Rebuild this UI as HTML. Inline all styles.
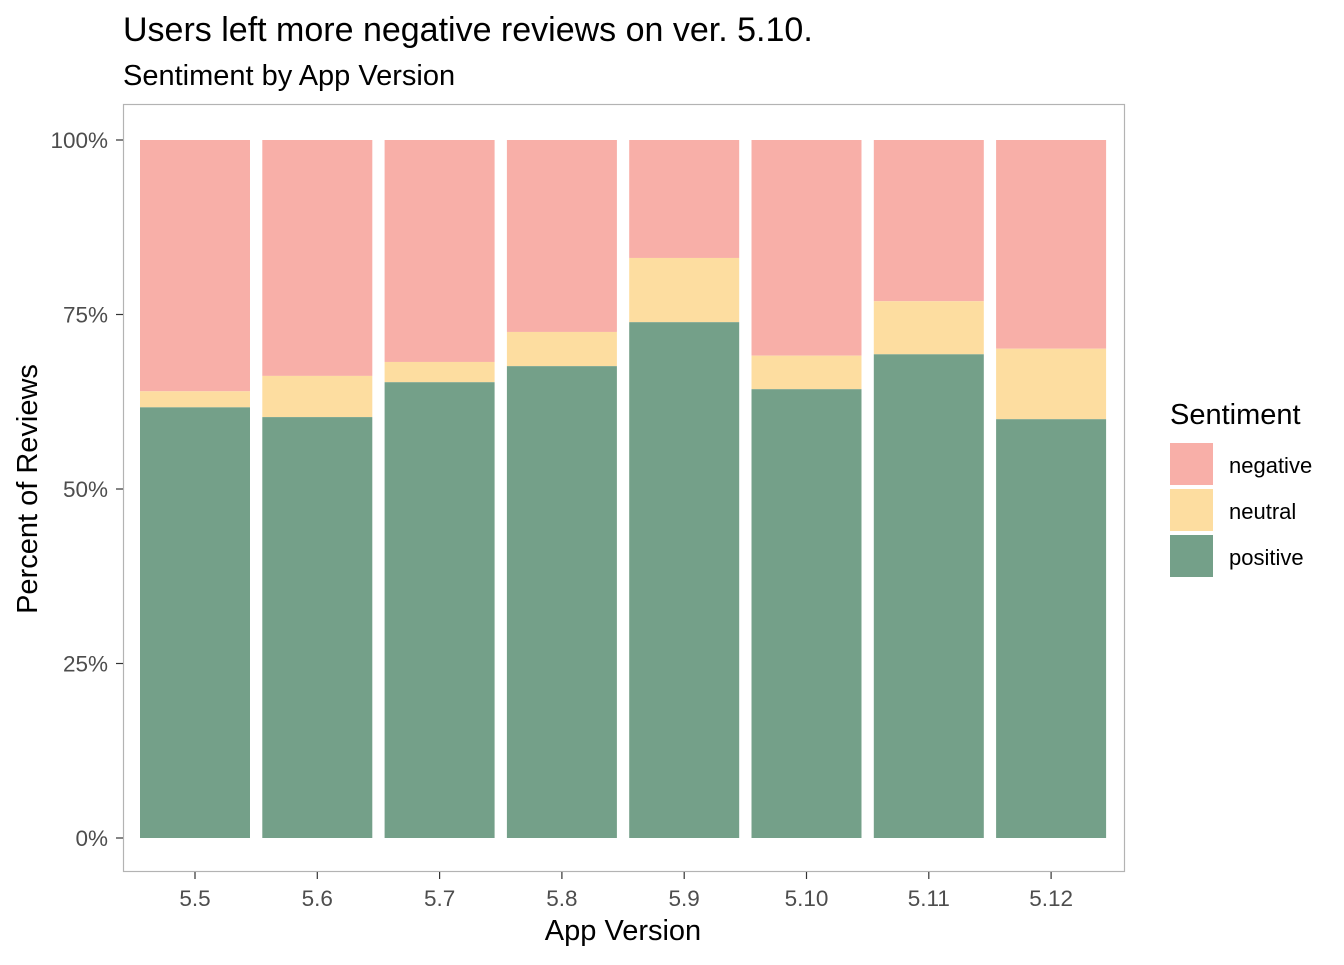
<!DOCTYPE html>
<html><head><meta charset="utf-8"><style>
body{margin:0;background:#fff;font-family:"Liberation Sans",sans-serif;}
</style></head><body>
<svg id="c" width="1344" height="960" xmlns="http://www.w3.org/2000/svg" font-family="Liberation Sans, sans-serif">
<text x="123" y="41" font-size="34" fill="#000">Users left more negative reviews on ver. 5.10.</text>
<text x="123" y="85" font-size="29" fill="#000">Sentiment by App Version</text>
<rect x="123.5" y="104.5" width="1001" height="767" fill="none" stroke="#b3b3b3" stroke-width="1.2"/>
<g id="bars"></g>
<g id="yax"></g>
<g id="xax"></g>
<text x="623" y="940" font-size="29" text-anchor="middle" fill="#000">App Version</text>
<text transform="translate(37,489) rotate(-90)" font-size="29" text-anchor="middle" fill="#000">Percent of Reviews</text>
<g>
<text x="1170" y="424" font-size="29" fill="#000">Sentiment</text>
<rect x="1170" y="443" width="43" height="42" fill="#F8AFA8"/>
<text x="1229" y="473" font-size="22" fill="#000">negative</text>
<rect x="1170" y="489" width="43" height="42" fill="#FDDDA0"/>
<text x="1229" y="519" font-size="22" fill="#000">neutral</text>
<rect x="1170" y="535" width="43" height="42" fill="#74A089"/>
<text x="1229" y="565" font-size="22" fill="#000">positive</text>
</g>
</svg>
<script>
const categories=["5.5","5.6","5.7","5.8","5.9","5.10","5.11","5.12"];
const positive=[61.7,60.3,65.3,67.6,73.9,64.3,69.3,60.0];
const neutral=[2.3,5.9,2.9,4.9,9.2,4.8,7.6,10.1];
const yTicks=[0,25,50,75,100];
const yTickLabels=["0%","25%","50%","75%","100%"];
const NS="http://www.w3.org/2000/svg";
const y=v=>838-v*6.98;
const x=i=>195+i*122.3;
const bw=110;
function mk(t,a,p){const e=document.createElementNS(NS,t);for(const k in a)e.setAttribute(k,a[k]);p.appendChild(e);return e;}
const bars=document.getElementById('bars'),yax=document.getElementById('yax'),xax=document.getElementById('xax');
categories.forEach((c,i)=>{
 const p=positive[i],n=neutral[i];
 let r=mk('rect',{x:x(i)-bw/2,y:y(100),width:bw,height:y(p+n)-y(100),fill:'#F8AFA8'},bars);
 
 
 r=mk('rect',{x:x(i)-bw/2,y:y(p+n),width:bw,height:y(p)-y(p+n),fill:'#FDDDA0'},bars);
 
 
 r=mk('rect',{x:x(i)-bw/2,y:y(p),width:bw,height:y(0)-y(p),fill:'#74A089'},bars);
 
 
 const tk=mk('line',{x1:x(i),x2:x(i),y1:872,y2:879,stroke:'#333','stroke-width':1.2},xax);
 
 
 const t=mk('text',{x:x(i),y:906,'font-size':22.5,'text-anchor':'middle',fill:'#4d4d4d'},xax);
 t.textContent=c;
 
 
});
yTicks.forEach((v,i)=>{
 const tk=mk('line',{x1:116,x2:123,y1:y(v),y2:y(v),stroke:'#333','stroke-width':1.2},yax);
 
 
 const t=mk('text',{x:108,y:y(v)+8,'font-size':22.5,'text-anchor':'end',fill:'#4d4d4d'},yax);
 t.textContent=yTickLabels[i];
 
 
});
</script>
</body></html>
